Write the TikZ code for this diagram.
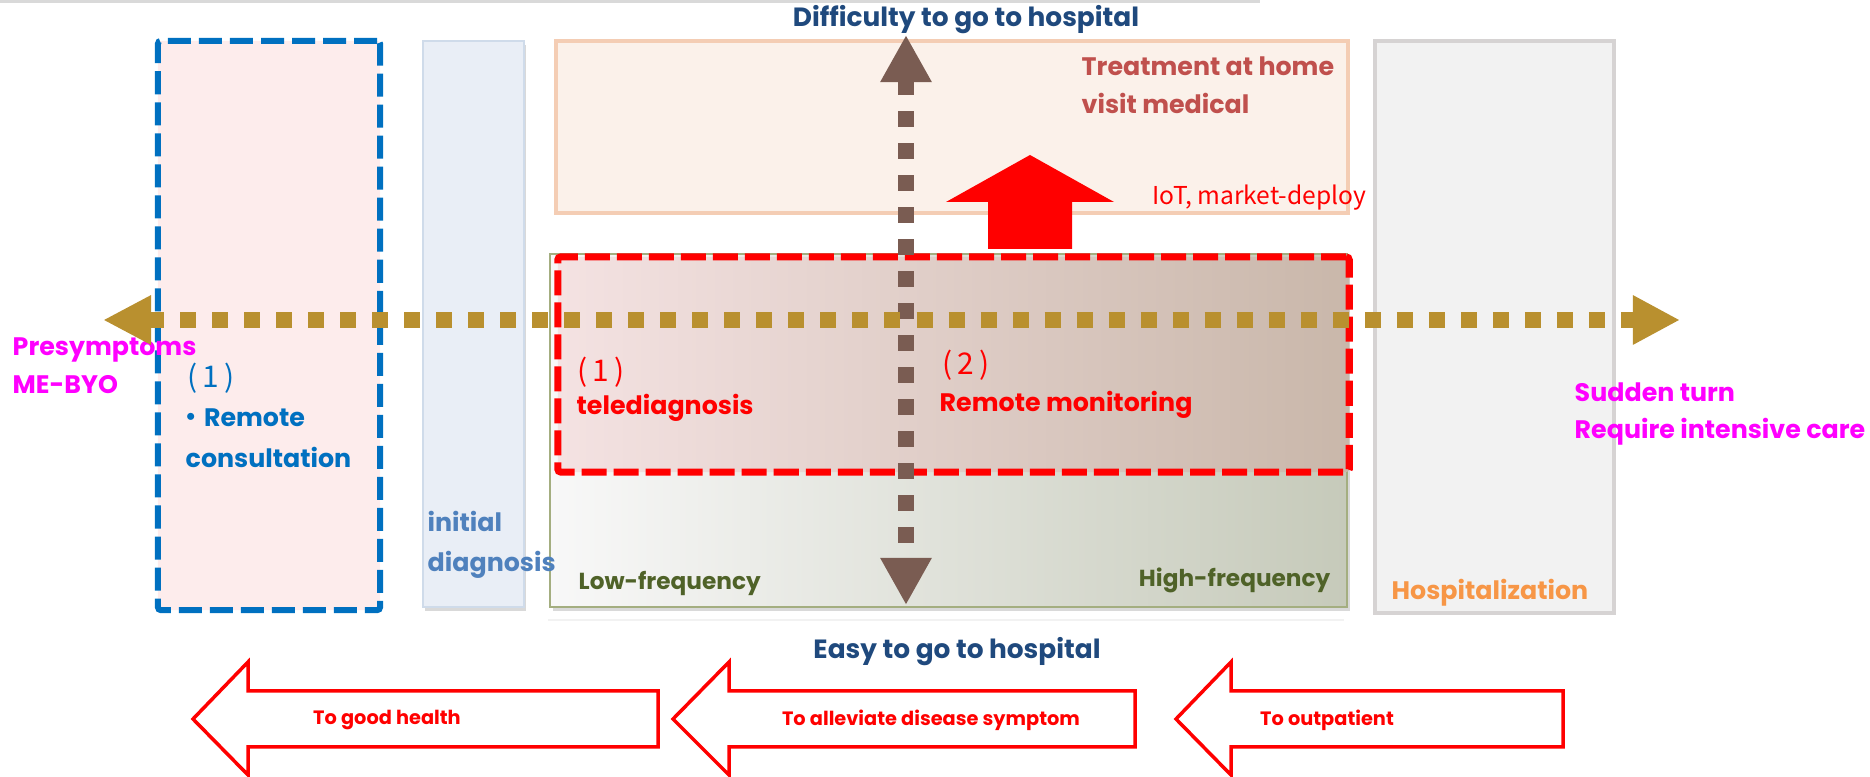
\documentclass[tikz,border=0pt]{standalone}
\usepackage{fontspec}
\setmainfont{Poppins}
\newfontfamily\jpfont{Noto Sans CJK JP}
\usetikzlibrary{arrows.meta,shadows,positioning}

\definecolor{cnavy}{HTML}{1F497D}
\definecolor{cblue}{HTML}{0070C0}
\definecolor{cpink}{HTML}{FDECEC}
\definecolor{csteel}{HTML}{4F81BD}
\definecolor{cice}{HTML}{E9EEF6}
\definecolor{ciceline}{HTML}{CFDBEA}
\definecolor{cpeach}{HTML}{FBF1EA}
\definecolor{cpeachline}{HTML}{F4CDB4}
\definecolor{cbrick}{HTML}{C0504D}
\definecolor{cgrey}{HTML}{F2F2F2}
\definecolor{cgreyline}{HTML}{D6D3D3}
\definecolor{corange}{HTML}{F79646}
\definecolor{colive}{HTML}{4F6228}
\definecolor{coliveline}{HTML}{A4AE80}
\definecolor{cfreqleft}{HTML}{F8F8F8}
\definecolor{cfreqright}{HTML}{C6CABA}
\definecolor{cremleft}{HTML}{F4E2E2}
\definecolor{cremright}{HTML}{C9B7AA}
\definecolor{cgold}{HTML}{B9902F}
\definecolor{cbrown}{HTML}{7A5C52}
\definecolor{cmag}{HTML}{FF00FF}

\begin{document}
\begin{tikzpicture}[x=0.01cm,y=-0.01cm]

\tikzstyle{zone} = [rectangle, inner sep=0, line width=0.04cm]
\tikzstyle{txt} = [inner sep=0, align=left, font=\bfseries\fontsize{7.2}{10.8}\selectfont]
\tikzstyle{num} = [inner sep=0, anchor=west, font=\jpfont\fontsize{8.5}{10}\selectfont]
\tikzstyle{small} = [inner sep=0, font=\bfseries\fontsize{5.5}{8}\selectfont, text=red]
\tikzstyle{dotline} = [line width=0.155cm, dash pattern=on 0.16cm off 0.16cm]
\tikzstyle{hollow} = [draw=red, line width=0.035cm, fill=white, line join=miter]

\useasboundingbox (0,0) rectangle (1870,777);
\draw [black!15, line width=0.03cm] (0,1.5) -- (1260,1.5);
\draw [black!5, line width=0.02cm] (548,620) -- (1344,620);

%% -----------
%% -- ZONES --
%% -----------

\node (consult) [zone, draw=cblue, fill=cpink, line width=0.06cm, dash pattern=on 0.23cm off 0.08cm, rounded corners=0.03cm, minimum width=2.22cm, minimum height=5.69cm] at (269,325.5) {};
\node (initdiag) [zone, draw=ciceline, fill=cice, line width=0.02cm, drop shadow={shadow xshift=0.02cm, shadow yshift=-0.04cm, opacity=0.3}, minimum width=1.01cm, minimum height=5.66cm] at (473.5,324) {};
\node (homecare) [zone, draw=cpeachline, fill=cpeach, minimum width=7.92cm, minimum height=1.72cm] at (952,127) {};
\node (hospital) [zone, draw=cgreyline, fill=cgrey, minimum width=2.39cm, minimum height=5.72cm] at (1494.5,327) {};
\node (freq) [zone, draw=coliveline, left color=cfreqleft, right color=cfreqright, line width=0.02cm, drop shadow={shadow xshift=0.03cm, shadow yshift=-0.04cm, opacity=0.3}, minimum width=7.97cm, minimum height=3.53cm] at (948.5,430.5) {};
\node (remote) [zone, draw=red, left color=cremleft, right color=cremright, line width=0.07cm, dash pattern=on 0.25cm off 0.07cm, rounded corners=0.03cm, minimum width=7.91cm, minimum height=2.15cm] at (953.5,364.5) {};

%% ------------
%% -- LABELS --
%% ------------

\node (difficult) [txt, text=cnavy, font=\bfseries\fontsize{7.5}{10}\selectfont] at (966,20) {Difficulty to go to hospital};
\node (easygo) [txt, text=cnavy, font=\bfseries\fontsize{7.5}{10}\selectfont] at (957,652) {Easy to go to hospital};
\node (treat) [txt, text=cbrick, anchor=west] at (1081,85) {Treatment at home\\visit medical};
\node (iot) [inner sep=0, text=red, anchor=west, font=\jpfont\fontsize{7}{8}\selectfont] at (1152,198) {IoT, market-deploy};
\node (presym) [txt, text=cmag, anchor=west] at (12,366) {Presymptoms\\ME-BYO};

% remote consultation
\node (consnum) [num, text=cblue] at (187,378) {(\,1\,)};
\node (consdot) [txt, text=cblue, anchor=west] at (178,418) {{\jpfont ・}Remote};
\node (constxt) [txt, text=cblue, anchor=west] at (185,457) {consultation};

\node (initxt) [txt, text=csteel, anchor=west, font=\bfseries\fontsize{7.2}{11.4}\selectfont] at (427,545) {initial\\diagnosis};

% telediagnosis and monitoring
\node (telenum) [num, text=red] at (577,372) {(\,1\,)};
\node (teletxt) [txt, text=red, anchor=west] at (576,408) {telediagnosis};
\node (mondnum) [num, text=red] at (942,365) {(\,2\,)};
\node (montxt) [txt, text=red, anchor=west] at (939,405) {Remote monitoring};

\node (lowfreq) [txt, text=colive, anchor=west, font=\bfseries\fontsize{6.6}{8}\selectfont] at (578,583) {Low-frequency};
\node (highfreq) [txt, text=colive, anchor=east, font=\bfseries\fontsize{6.6}{8}\selectfont] at (1331,580) {High-frequency};
\node (hosptxt) [txt, text=corange, anchor=west] at (1391,593) {Hospitalization};
\node (sudden) [txt, text=cmag, anchor=west] at (1574,414) {Sudden turn\\Require intensive care};

%% ------------
%% -- ARROWS --
%% ------------

% difficulty axis
\coordinate (hard) at (906,35);
\coordinate (easy) at (906,605);
\draw [dotline, cbrown, {Triangle[length=0.47cm,width=0.48cm]}-{Triangle[length=0.47cm,width=0.48cm]}] (hard) -- (easy);

% severity axis
\coordinate (mild) at (103,320);
\coordinate (severe) at (1680,320);
\draw [dotline, cgold, {Triangle[length=0.48cm,width=0.46cm]}-{Triangle[length=0.47cm,width=0.46cm]}] (mild) -- (severe);

% IoT push
\fill [red] (988,249) -- (988,202) -- (946,202) -- (1030,155) -- (1114,202) -- (1072,202) -- (1072,249) -- cycle;

% recovery arrows
\draw [hollow] (193,719) -- (248,662) -- (248,691) -- (658,691) -- (658,747) -- (248,747) -- (248,775) -- cycle;
\draw [hollow] (673,719) -- (729,662) -- (729,691) -- (1135,691) -- (1135,747) -- (729,747) -- (729,775) -- cycle;
\draw [hollow] (1176,719) -- (1231,662) -- (1231,691) -- (1563,691) -- (1563,747) -- (1231,747) -- (1231,775) -- cycle;
\node (health) [small] at (387,720) {To good health};
\node (alleviate) [small] at (931,720) {To alleviate disease symptom};
\node (outpat) [small] at (1327,720) {To outpatient};

\end{tikzpicture}
\end{document}
